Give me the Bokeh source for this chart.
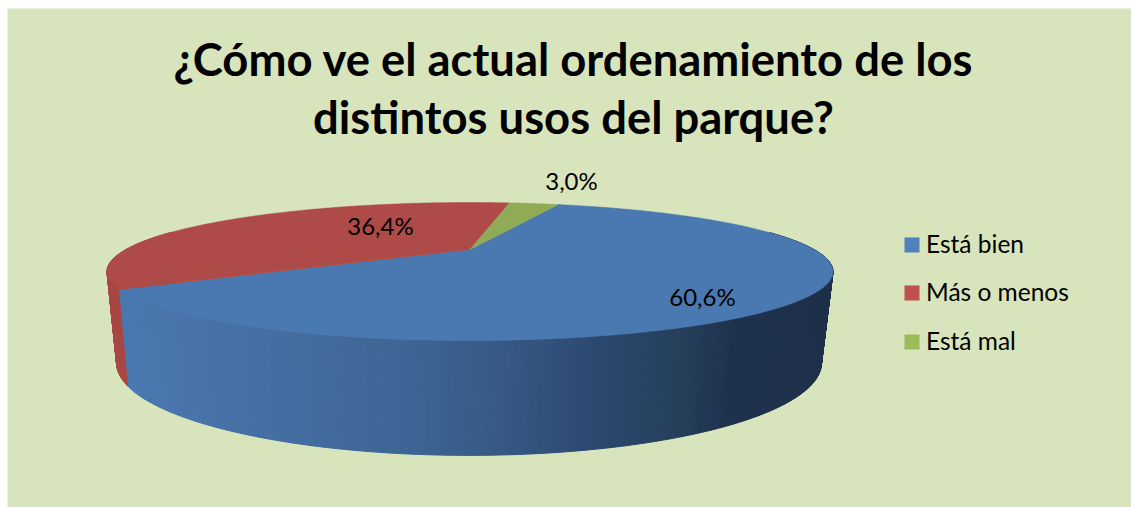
import numpy as np
from bokeh.plotting import figure
from bokeh.models import ColumnDataSource, Range1d
from bokeh.core.properties import value
from bokeh.embed import file_html
from bokeh.resources import INLINE

title_lines = ["¿Cómo ve el actual ordenamiento de los", "distintos usos del parque?"]
categories = ["Está bien", "Más o menos", "Está mal"]
shares = [60.6, 36.4, 3.0]
top_colors = ["#4A78B0", "#AE4B48", "#8FAB55"]
legend_colors = ["#4F81BD", "#C0504D", "#9BBB59"]
background = "#D8E4BC"
first_slice_angle = 19.5

W, H = 1131, 507
p = figure(width=W, height=H, output_backend="svg", toolbar_location=None,
           x_range=Range1d(0, W), y_range=Range1d(H, 0), min_border=0,
           background_fill_color="#ffffff", border_fill_color="#ffffff",
           outline_line_color=None)
p.axis.visible = False
p.grid.visible = False

p.quad(left=[7], right=[W], top=[8], bottom=[H], fill_color=background, line_color=None)


def project(deg, cx, cy, R, S, k=0.319):
    t = np.radians(deg)
    u, v = np.sin(t), np.cos(t)
    w = 1 + k * v
    return cx + R * u / w, cy - S * v / w


def top(deg):
    return project(deg, 469.5, 249, 344, 62)


def bottom(deg):
    return project(deg, 468.5, 333, 334, 83)


def shade(x):
    stops_x = [130, 250, 400, 497, 589, 681, 735, 830]
    stops_r = [74, 70, 62, 56, 45, 38, 30, 30]
    stops_g = [120, 112, 102, 90, 74, 64, 50, 48]
    stops_b = [176, 165, 150, 133, 114, 92, 78, 74]
    r, g, b = (int(np.interp(x, stops_x, s)) for s in (stops_r, stops_g, stops_b))
    return f"#{r:02x}{g:02x}{b:02x}"


# slice boundaries, clockwise from the far side
spans = []
a = first_slice_angle
for s in shares:
    b = a + s * 3.6
    spans.append((a, b))
    a = b

# side wall: red slice first, the blue one over it
wx, wy, wc = [], [], []
for i in (1, 0):
    a, b = spans[i]
    n = int((b - a) / 0.5)
    grid = np.linspace(a, b, n + 1)
    for g0, g1 in zip(grid[:-1], grid[1:]):
        if np.cos(np.radians((g0 + g1) / 2)) > 0.3:
            continue
        x0, y0 = top(g0)
        x1, y1 = top(g1)
        x2, y2 = bottom(g1)
        x3, y3 = bottom(g0)
        wx.append([x0, x1, x2, x3])
        wy.append([y0, y1, y2, y3])
        wc.append(shade((x0 + x1) / 2) if i == 0 else "#A94744")
p.patches("x", "y", source=ColumnDataSource(dict(x=wx, y=wy, c=wc)),
          fill_color="c", line_color="c", line_width=1)

# top faces
tx, ty = [], []
for a, b in spans:
    ax, ay = top(np.linspace(a, b, 240))
    tx.append([469.5] + list(ax))
    ty.append([249.0] + list(ay))
p.patches("x", "y", source=ColumnDataSource(dict(x=tx, y=ty, c=top_colors)),
          fill_color="c", line_color="c", line_width=0.5)

# title
p.text(x=[573, 573], y=[58, 116], text=title_lines, text_font=value("Lato"),
       text_font_style="bold", text_font_size="45.4px", text_color="#000000",
       text_align="center", text_baseline="middle")

# data labels
labels = [f"{s:.1f}%".replace(".", ",") for s in shares]
p.text(x=[702, 380, 571], y=[296, 225, 180], text=labels, text_font=value("Lato"),
       text_font_size="24px", text_color="#000000",
       text_align="center", text_baseline="middle")

# legend
ly = [244.5, 292.5, 341.5]
p.scatter(x=[911.5] * 3, y=ly, size=15, marker="square", fill_color=legend_colors, line_color=None)
p.text(x=[925.5] * 3, y=[v - 2 for v in ly], text=categories, text_font=value("Lato"),
       text_font_size="24.5px", text_color="#000000", text_align="left", text_baseline="middle")

open("out.html", "w").write(file_html(p, INLINE))
